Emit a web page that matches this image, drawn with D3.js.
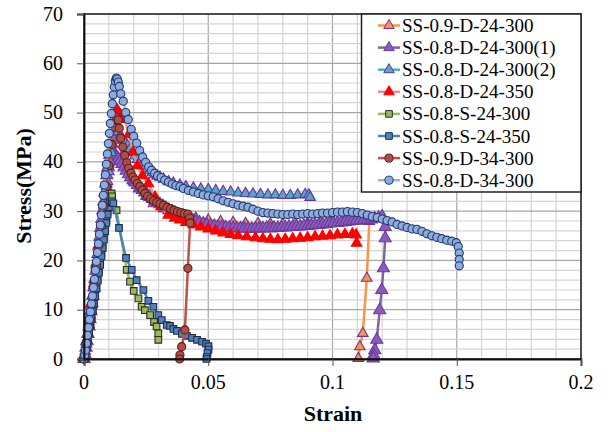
<!DOCTYPE html>
<html><head><meta charset="utf-8">
<script src="https://cdn.jsdelivr.net/npm/d3@7"></script>
</head><body style="margin:0;background:#fff">
<svg id="c" width="608" height="432"></svg>
<script>
// ---------- DATA ----------
const seriesNames = ["SS-0.9-D-24-300","SS-0.8-D-24-300(1)","SS-0.8-D-24-300(2)","SS-0.8-D-24-350","SS-0.8-S-24-300","SS-0.8-S-24-350","SS-0.9-D-34-300","SS-0.8-D-34-300"];
const xTickValues = [0,0.05,0.1,0.15,0.2];
const xTickLabels = ["0","0.05","0.1","0.15","0.2"];
const yTickValues = [0,10,20,30,40,50,60,70];

// SS-0.9-D-24-300
const s1 = [[0,0],[0.001,3],[0.002,7],[0.003,11],[0.004,15],[0.005,19],[0.006,23],[0.007,27],[0.008,31],[0.009,35],[0.01,39],[0.011,42.5],[0.012,44.5],[0.0128,45.5],[0.0137,45.8],[0.0145,44.4],[0.0158,41.7],[0.017,39.5],[0.0185,37.5],[0.02,36],[0.022,34.5],[0.025,33],[0.028,31.5],[0.032,30.5],[0.036,29.8],[0.04,29.2],[0.045,28.6],[0.05,28.2],[0.055,27.9],[0.06,27.7],[0.065,27.5],[0.07,27.5],[0.075,27.4],[0.08,27.4],[0.085,27.5],[0.09,27.6],[0.095,27.7],[0.1,27.9],[0.105,28],[0.11,28],[0.1148,27.9],[0.1138,16.4],[0.1122,5.2],[0.111,2.5],[0.1104,0.1]];
// SS-0.8-D-24-300(1)
const s2 = [[0,0],[0.0004,1],[0.0008,2.3],[0.0012,3.7],[0.0016,5.1],[0.002,6.6],[0.0024,8.1],[0.0028,9.7],[0.0032,11.3],[0.0036,12.9],[0.004,14.5],[0.0044,16.2],[0.0048,17.9],[0.0052,19.6],[0.0056,21.3],[0.006,23],[0.0064,24.8],[0.0068,26.6],[0.0072,28.4],[0.0076,30.2],[0.008,32],[0.0084,33.8],[0.0088,35.6],[0.0092,37.3],[0.0096,38.9],[0.01,40.3],[0.0104,41.4],[0.0108,42.2],[0.0112,42.6],[0.0116,42.4],[0.012,41.8],[0.0125,41.3],[0.013,40.9],[0.0137,40.6],[0.0145,40.2],[0.0153,39.6],[0.0161,38.9],[0.017,38.2],[0.0179,37.5],[0.0188,36.9],[0.0197,36.3],[0.0206,35.8],[0.0215,35.3],[0.0225,34.8],[0.0235,34.3],[0.0245,33.8],[0.0255,33.3],[0.0265,32.9],[0.0275,32.5],[0.0285,32.1],[0.0295,31.8],[0.0306,31.4],[0.0318,31],[0.033,30.6],[0.0342,30.2],[0.0354,29.9],[0.0366,29.6],[0.0378,29.3],[0.039,29],[0.0402,28.8],[0.0414,28.5],[0.0426,28.3],[0.0438,28.1],[0.045,27.9],[0.0465,27.7],[0.048,27.5],[0.0495,27.3],[0.051,27.1],[0.0525,27],[0.054,26.9],[0.0555,26.8],[0.057,26.7],[0.0585,26.6],[0.06,26.6],[0.0615,26.5],[0.063,26.5],[0.0645,26.5],[0.066,26.5],[0.0675,26.4],[0.069,26.5],[0.0705,26.5],[0.072,26.5],[0.0735,26.6],[0.075,26.5],[0.0765,26.6],[0.078,26.6],[0.0795,26.7],[0.081,26.7],[0.0825,26.8],[0.084,26.8],[0.0855,26.9],[0.087,26.9],[0.0885,27],[0.09,27],[0.0915,27.1],[0.093,27.2],[0.0945,27.2],[0.096,27.3],[0.0975,27.4],[0.099,27.5],[0.1005,27.6],[0.102,27.6],[0.1035,27.7],[0.105,27.8],[0.1065,27.9],[0.108,28],[0.1095,28.1],[0.111,28.1],[0.1125,28.2],[0.114,28.2],[0.1155,28.3],[0.117,28.5],[0.1185,28.7],[0.12,28.9],[0.1212,26.8],[0.1212,24.5],[0.1205,18.4],[0.1198,14],[0.119,9.9],[0.1178,3.9],[0.117,1.8],[0.1166,0.8],[0.1164,0.1]];
// SS-0.8-D-24-300(2)
const s3 = [[0,0],[0.0005,1.6],[0.001,3.4],[0.0015,5.2],[0.002,7],[0.0025,8.9],[0.003,10.8],[0.0035,12.7],[0.004,14.6],[0.0045,16.5],[0.005,18.4],[0.0055,20.3],[0.006,22.2],[0.0065,24.1],[0.007,26],[0.0075,28],[0.008,30],[0.0085,32],[0.009,34],[0.0095,36],[0.01,38],[0.0105,40],[0.011,41.9],[0.0115,43.6],[0.012,45],[0.0125,45.9],[0.013,46.2],[0.0138,46.1],[0.0146,45.4],[0.0155,44.6],[0.0165,43.9],[0.0175,43.3],[0.0185,42.6],[0.0195,41.9],[0.0205,41.2],[0.0215,40.5],[0.0225,39.9],[0.0235,39.4],[0.0245,39],[0.0255,38.6],[0.0265,38.2],[0.0275,37.8],[0.0285,37.4],[0.0295,37.1],[0.0306,36.9],[0.032,36.5],[0.034,36],[0.036,35.7],[0.0386,35.3],[0.041,35],[0.044,34.7],[0.047,34.5],[0.05,34.4],[0.053,34.2],[0.056,34],[0.059,33.9],[0.062,33.7],[0.065,33.6],[0.068,33.5],[0.071,33.4],[0.074,33.3],[0.077,33.3],[0.08,33.2],[0.083,33.2],[0.086,33.3],[0.089,33.4],[0.0905,33.3],[0.091,32.8]];
// SS-0.8-D-24-350
const s4 = [[0,0],[0.001,3.6],[0.002,7.5],[0.003,11.4],[0.004,15.3],[0.005,19.2],[0.006,23.2],[0.007,27.2],[0.008,31.3],[0.009,35.4],[0.01,39.6],[0.011,44],[0.0118,48],[0.0125,50.8],[0.0135,50.5],[0.0148,49.5],[0.0165,48.6],[0.018,45.5],[0.0198,42],[0.0215,39.2],[0.0235,37.2],[0.0259,35.6],[0.0286,32.9],[0.031,30.9],[0.0339,29.2],[0.0365,28.6],[0.0386,28.2],[0.041,27.7],[0.044,27.2],[0.047,26.8],[0.05,26.4],[0.053,26],[0.056,25.6],[0.059,25.3],[0.062,25],[0.0655,24.8],[0.069,24.6],[0.072,24.4],[0.075,24.3],[0.078,24.2],[0.081,24.3],[0.084,24.4],[0.087,24.5],[0.09,24.6],[0.093,24.8],[0.096,24.9],[0.099,25],[0.102,25.2],[0.105,25.3],[0.108,25.4],[0.1095,25.2],[0.1097,23.5]];
// SS-0.8-S-24-300
const s5 = [[0,0],[0.0005,1.2],[0.001,2.6],[0.0015,4],[0.002,5.5],[0.0025,7],[0.003,8.5],[0.0035,10],[0.004,11.6],[0.0045,13.2],[0.005,14.8],[0.0055,16.4],[0.006,18],[0.0065,19.7],[0.007,21.4],[0.0075,23.1],[0.008,24.8],[0.0085,26.5],[0.009,28.2],[0.0095,29.9],[0.01,31.6],[0.0105,33],[0.0111,33.6],[0.0113,33],[0.0131,30.2],[0.0172,18.1],[0.0185,15.7],[0.02,13.8],[0.0219,12.3],[0.0232,10.6],[0.0245,9.9],[0.0266,8.9],[0.0282,7.5],[0.0292,6.6],[0.0299,5.2],[0.0299,3.9]];
// SS-0.8-S-24-350
const s6 = [[0,0],[0.0005,1.1],[0.001,2.4],[0.0015,3.8],[0.002,5.2],[0.0025,6.7],[0.003,8.2],[0.0035,9.7],[0.004,11.2],[0.0045,12.7],[0.005,14.3],[0.0055,15.9],[0.006,17.5],[0.0065,19.1],[0.007,20.8],[0.0075,22.5],[0.008,24.2],[0.0085,25.9],[0.009,27.6],[0.0095,29.3],[0.01,30.8],[0.0105,31.8],[0.0112,32],[0.0118,31.6],[0.0141,26.6],[0.0169,20.5],[0.0192,18.1],[0.0212,16],[0.0239,14],[0.0259,11.8],[0.0279,10.6],[0.0299,8.9],[0.0313,7.9],[0.0333,6.9],[0.0346,6.7],[0.036,6.1],[0.0374,5.7],[0.0394,5.1],[0.0414,4.7],[0.0435,4.3],[0.0455,3.9],[0.0475,3.5],[0.0491,3.1],[0.0501,2.6],[0.0501,1.9],[0.0497,1.2],[0.0494,0.4],[0.0493,0]];
// SS-0.9-D-34-300
const s7 = [[0,0],[0.001,3.5],[0.002,7.3],[0.003,11.1],[0.004,15],[0.005,19],[0.006,23],[0.007,27],[0.008,31],[0.009,35],[0.01,39.2],[0.011,43.5],[0.0118,47],[0.0125,48.8],[0.0132,49],[0.0138,48.5],[0.0142,46.8],[0.0148,44.8],[0.0156,43],[0.0164,41.3],[0.0172,39.8],[0.018,38.7],[0.0189,37.7],[0.0197,36.9],[0.0205,36.3],[0.0215,35.6],[0.0225,35],[0.0235,34.3],[0.0245,33.6],[0.0256,33],[0.0268,32.5],[0.028,32.1],[0.0293,31.8],[0.0306,31.5],[0.032,31.2],[0.0334,30.8],[0.0348,30.5],[0.0362,30.2],[0.0376,29.9],[0.039,29.7],[0.0404,29.5],[0.0418,29.4],[0.0425,28.6],[0.0427,27.6],[0.0418,18.4],[0.0406,5.9],[0.0393,2.5],[0.0386,0.8],[0.0385,0]];
// SS-0.8-D-34-300
const s8 = [[0,0],[0.0003,0.8],[0.0006,1.8],[0.001,3.2],[0.0014,4.8],[0.0018,6.4],[0.0022,8],[0.0026,9.6],[0.003,11.2],[0.0034,12.8],[0.0038,14.5],[0.0042,16.2],[0.0046,18],[0.005,19.8],[0.0054,21.6],[0.0058,23.4],[0.0062,25.3],[0.0066,27.2],[0.007,29.2],[0.0074,31.2],[0.0078,33.2],[0.0082,35.3],[0.0086,37.4],[0.009,39.5],[0.0094,41.6],[0.0098,43.7],[0.0102,45.8],[0.0106,47.8],[0.011,49.8],[0.0114,51.8],[0.0118,53.6],[0.0122,55.2],[0.0126,56.4],[0.013,57],[0.0134,56.8],[0.0138,56.2],[0.0142,55.3],[0.0148,53.8],[0.0158,52.3],[0.0168,50],[0.0178,48.6],[0.019,46.6],[0.02,45.2],[0.0212,43.8],[0.0224,42.3],[0.0236,41],[0.0248,39.9],[0.026,39],[0.0272,38.3],[0.0284,37.7],[0.0296,37.2],[0.031,36.8],[0.0325,36.3],[0.034,35.9],[0.0355,35.5],[0.037,35.2],[0.0386,35],[0.04,34.6],[0.042,34.2],[0.044,33.9],[0.046,33.6],[0.048,33.3],[0.05,33.1],[0.052,32.9],[0.054,32.5],[0.056,32.1],[0.058,31.8],[0.06,31.5],[0.062,31.2],[0.064,31],[0.066,30.8],[0.068,30.4],[0.07,30],[0.072,29.7],[0.074,29.6],[0.076,29.5],[0.078,29.4],[0.08,29.3],[0.082,29.3],[0.084,29.4],[0.086,29.3],[0.088,29.4],[0.09,29.5],[0.092,29.4],[0.094,29.5],[0.096,29.6],[0.098,29.6],[0.1,29.7],[0.102,29.8],[0.104,29.8],[0.106,29.9],[0.108,29.8],[0.11,29.7],[0.112,29.5],[0.114,29.2],[0.116,28.9],[0.118,28.7],[0.12,28.4],[0.122,28.1],[0.124,27.8],[0.126,27.3],[0.128,27],[0.13,26.7],[0.132,26.4],[0.134,26.3],[0.136,25.9],[0.138,25.4],[0.14,25],[0.142,24.7],[0.144,24.4],[0.146,24.1],[0.148,23.9],[0.1498,23.6],[0.1506,22.8],[0.151,21.5],[0.151,20.2],[0.151,18.9]];

const seriesData = [s1,s2,s3,s4,s5,s6,s7,s8];
const lineColors = ["#F79646","#8064A2","#4BACC6","#D99694","#9BBB59","#4F81BD","#C0504D","#95B3D7"];
const markerFills = ["#F79646","#8A5BBF","#4BACC6","#FF0000","#9BBB59","#4F81BD","#B04E46","#8FAADC"];
const markerStrokes = ["#7030A0","#6A3D9A","#7030A0","#FF0000","#2b2b2b","#1F2D4D","#5A1E1A","#1F3A70"];
const markerShapes = ["tri","tri","tri","tri","sq","sq","circ","circ"];

// ---------- CHART ----------
const svg = d3.select("#c");
const x = d3.scaleLinear().domain([0,0.2]).range([84,581]);
const y = d3.scaleLinear().domain([0,70]).range([359,14]);

// grid
const g = svg.append("g");
d3.range(0,0.2001,0.01).forEach(v=>{
  const k = Math.round(v*100);
  g.append("line").attr("x1",x(v)).attr("x2",x(v)).attr("y1",y(0)).attr("y2",y(70))
   .attr("stroke", k%5===0 ? "#a6a6a6" : "#d4d4d4").attr("stroke-width",1.2);
});
d3.range(0,70.001,2).forEach(v=>{
  g.append("line").attr("x1",x(0)).attr("x2",x(0.2)).attr("y1",y(v)).attr("y2",y(v))
   .attr("stroke", Math.round(v)%10===0 ? "#a6a6a6" : "#d4d4d4").attr("stroke-width",1.2);
});

// series
const symType = {tri:d3.symbolTriangle, sq:d3.symbolSquare, circ:d3.symbolCircle};
const symSize = {tri:48, sq:44, circ:52};
const line = d3.line().x(d=>x(d[0])).y(d=>y(d[1]));
const plot = svg.append("g");
seriesData.forEach((data,i)=>{
  const sg = plot.append("g");
  sg.append("path").attr("d",line(data)).attr("fill","none")
    .attr("stroke",lineColors[i]).attr("stroke-width",2.5).attr("stroke-linejoin","round");
  const sym = d3.symbol().type(symType[markerShapes[i]]).size(i===1?64:symSize[markerShapes[i]]);
  sg.selectAll("path.m").data(data).join("path").attr("class","m")
    .attr("d",sym).attr("transform",d=>`translate(${x(d[0])},${y(d[1])})`)
    .attr("fill",markerFills[i]).attr("stroke",markerStrokes[i]).attr("stroke-width",1.1);
});

// plot border
svg.append("rect").attr("x",x(0)).attr("y",y(70)).attr("width",x(0.2)-x(0)).attr("height",y(0)-y(70))
  .attr("fill","none").attr("stroke","#222").attr("stroke-width",1.5);

// axes (labels drawn as plain texts)
const xAxis = svg.append("g").attr("transform",`translate(0,${y(0)})`)
  .call(d3.axisBottom(x).tickValues(xTickValues).tickFormat("").tickSize(7));
const yAxis = svg.append("g").attr("transform",`translate(${x(0)},0)`)
  .call(d3.axisLeft(y).tickValues(yTickValues).tickFormat("").tickSize(7));
[xAxis,yAxis].forEach(a=>{
  a.select(".domain").attr("stroke","#111").attr("stroke-width",1.8);
  a.selectAll(".tick line").attr("stroke","#555").attr("stroke-width",1);
});
xTickValues.forEach((v,i)=>{
  svg.append("text").attr("x",x(v)).attr("y",389).attr("font-size",20).attr("font-family","Times New Roman")
    .attr("text-anchor","middle").attr("fill","#000").text(xTickLabels[i]);
});
yTickValues.forEach(v=>{
  svg.append("text").attr("x",63).attr("y",y(v)+6.5).attr("font-size",20).attr("font-family","Times New Roman")
    .attr("text-anchor","end").attr("fill","#000").text(String(v));
});

// axis titles
svg.append("text").attr("x",333).attr("y",421).attr("font-size",22).attr("font-family","Times New Roman")
  .attr("text-anchor","middle").attr("font-weight","bold").text("Strain");
svg.append("text").attr("transform","translate(31,186) rotate(-90)").attr("font-size",22).attr("font-family","Times New Roman")
  .attr("text-anchor","middle").attr("font-weight","bold").text("Stress(MPa)");

// legend
const lg = svg.append("g");
lg.append("rect").attr("x",361.5).attr("y",14).attr("width",219.5).attr("height",178)
  .attr("fill","#fff").attr("stroke","#222").attr("stroke-width",1.5);
seriesNames.forEach((name,i)=>{
  const yy = 25.5 + i*22.1;
  lg.append("line").attr("x1",378).attr("x2",400).attr("y1",yy).attr("y2",yy)
    .attr("stroke",lineColors[i]).attr("stroke-width",2.5);
  lg.append("path").attr("d",d3.symbol().type(symType[markerShapes[i]]).size(symSize[markerShapes[i]])())
    .attr("transform",`translate(389,${yy})`).attr("fill",markerFills[i]).attr("stroke",markerStrokes[i]).attr("stroke-width",1);
  lg.append("text").attr("x",402).attr("y",yy+6.5).attr("font-size",19).attr("font-family","Times New Roman")
    .attr("fill","#000").text(name);
});
</script></body></html>
